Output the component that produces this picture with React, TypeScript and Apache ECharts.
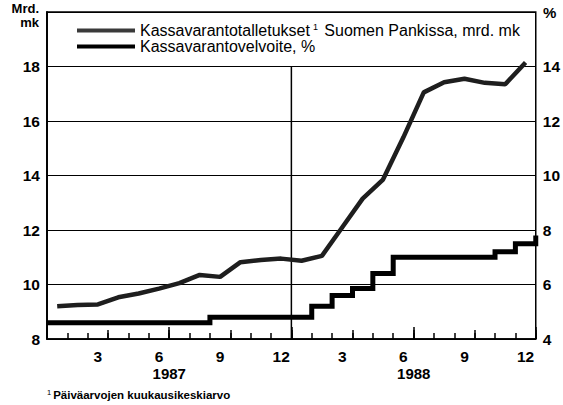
import React, { useEffect, useRef } from "react";
import * as echarts from "echarts";

const months = ["1","2","3","4","5","6","7","8","9","10","11","12","1","2","3","4","5","6","7","8","9","10","11","12"];
const years = ["1987", "1988"];
// Kassavarantotalletukset Suomen Pankissa, mrd. mk (monthly averages)
const deposits = [9.2, 9.25, 9.27, 9.53, 9.67, 9.85, 10.05, 10.35, 10.28, 10.82, 10.9, 10.95,
  10.87, 11.05, 12.1, 13.15, 13.85, 15.4, 17.05, 17.42, 17.55, 17.4, 17.35, 18.15];
// Kassavarantovelvoite, %
const reserveRatio = [4.6, 4.6, 4.6, 4.6, 4.6, 4.6, 4.6, 4.6, 4.8, 4.8, 4.8, 4.8,
  4.8, 5.2, 5.6, 5.85, 6.4, 7.0, 7.0, 7.0, 7.0, 7.0, 7.2, 7.5];
const reserveRatioNext = 7.8;
const leftTicks = [8, 10, 12, 14, 16, 18];
const rightTicks = [4, 6, 8, 10, 12, 14];

const NAME1 = "Kassavarantotalletukset";
const NAME2 = "Kassavarantovelvoite, %";
const FONT = "Liberation Sans, Arial, sans-serif";

export default function App() {
  const ref = useRef<HTMLDivElement>(null);
  useEffect(() => {
    const chart = echarts.init(ref.current!, null, { renderer: "svg" });
    const lineData = deposits.map((v, i) => [i + 0.5, v]);
    const stepData: number[][] = reserveRatio.map((v, i) => [i, v]);
    stepData.push([24, reserveRatio[reserveRatio.length - 1]]);
    stepData.push([24, reserveRatioNext]);

    const tickAxis = (interval: number, len: number, showLine: boolean) => ({
      type: "value",
      min: 0,
      max: 24,
      interval,
      position: "bottom",
      axisLine: { show: showLine, lineStyle: { color: "#000", width: 1.5 } },
      axisTick: { show: true, inside: true, length: len, lineStyle: { color: "#000", width: 1.5 } },
      axisLabel: { show: false },
      splitLine: { show: false },
    });

    // centre of each year's span on the month axis (grid: left 47, width 489)
    const yearX = (k: number) => 47 + ((k * 12 + 6) / 24) * 489;

    chart.setOption({
      animation: false,
      grid: {
        left: 47, right: 27, top: 12, bottom: 66,
        show: true, borderColor: "#000", borderWidth: 1.5, backgroundColor: "transparent",
      },
      legend: {
        orient: "vertical",
        left: 77,
        top: 22,
        padding: 0,
        itemWidth: 58,
        itemHeight: 4,
        itemGap: 0,
        icon: "rect",
        data: [NAME1, NAME2],
        selectedMode: false,
        formatter: (name: string) =>
          name === NAME1 ? "{t|Kassavarantotalletukset}{sup|1}{t| Suomen Pankissa, mrd. mk}" : "{t|" + name + "}",
        textStyle: {
          color: "#000",
          fontFamily: FONT,
          fontSize: 16,
          rich: {
            t: { fontSize: 16, fontFamily: FONT, color: "#000", lineHeight: 17 },
            sup: { fontSize: 9, fontFamily: FONT, color: "#000", verticalAlign: "top", lineHeight: 17, padding: [0, 2, 0, 3] },
          },
        },
      },
      xAxis: [
        tickAxis(1, 6, true),
        tickAxis(3, 9, false),
        tickAxis(6, 12, false),
        {
          type: "category",
          data: months,
          position: "bottom",
          boundaryGap: true,
          axisLine: { show: false },
          axisTick: { show: false },
          splitLine: { show: false },
          axisLabel: {
            interval: (idx: number) => (idx + 1) % 3 === 0,
            margin: 9,
            color: "#000",
            fontFamily: FONT,
            fontWeight: "bold",
            fontSize: 15.5,
          },
        },
      ],
      yAxis: [
        {
          type: "value",
          min: 8,
          max: 20,
          interval: 2,
          position: "left",
          axisLine: { show: true, lineStyle: { color: "#000", width: 1.5 } },
          axisTick: { show: false },
          splitLine: { show: true, lineStyle: { color: "#000", width: 1.2 } },
          axisLabel: {
            margin: 7,
            color: "#000",
            fontFamily: FONT,
            fontWeight: "bold",
            fontSize: 15.5,
            formatter: (v: number) => (leftTicks.includes(v) ? String(v) : ""),
          },
        },
        {
          type: "value",
          min: 4,
          max: 16,
          interval: 2,
          position: "right",
          axisLine: { show: true, lineStyle: { color: "#000", width: 1.5 } },
          axisTick: { show: false },
          splitLine: { show: false },
          axisLabel: {
            margin: 7,
            color: "#000",
            fontFamily: FONT,
            fontWeight: "bold",
            fontSize: 15.5,
            formatter: (v: number) => (rightTicks.includes(v) ? String(v) : ""),
          },
        },
      ],
      graphic: [
        {
          type: "text", x: 39, y: 2,
          style: { text: "Mrd.", align: "right", fill: "#000", font: "bold 13px " + FONT },
        },
        {
          type: "text", x: 39, y: 16,
          style: { text: "mk", align: "right", fill: "#000", font: "bold 13px " + FONT },
        },
        {
          type: "text", x: 543, y: 5,
          style: { text: "%", fill: "#000", font: "bold 15px " + FONT },
        },
        {
          type: "text", x: yearX(0), y: 373,
          style: { text: years[0], align: "center", verticalAlign: "middle", fill: "#000", font: "bold 15px " + FONT },
        },
        {
          type: "text", x: yearX(1), y: 373,
          style: { text: years[1], align: "center", verticalAlign: "middle", fill: "#000", font: "bold 15px " + FONT },
        },
        {
          type: "text", x: 47, y: 388,
          style: {
            text: "{s|1}{f|Päiväarvojen kuukausikeskiarvo}",
            fill: "#000",
            rich: {
              s: { fontSize: 7.5, fontFamily: FONT, fill: "#000", verticalAlign: "top", lineHeight: 13, padding: [0, 2, 0, 0] },
              f: { fontSize: 11.5, fontFamily: FONT, fontWeight: "bold", fill: "#000", lineHeight: 13 },
            },
          },
        },
      ],
      series: [
        {
          name: NAME1,
          type: "line",
          xAxisIndex: 0,
          yAxisIndex: 0,
          data: lineData,
          showSymbol: false,
          symbol: "none",
          color: "#3a3a3a",
          lineStyle: { color: "#1e1e1e", width: 4.5 },
          z: 4,
        },
        {
          name: NAME2,
          type: "line",
          xAxisIndex: 0,
          yAxisIndex: 1,
          data: stepData,
          step: "end",
          showSymbol: false,
          symbol: "none",
          color: "#000",
          lineStyle: { color: "#000", width: 5, join: "miter" },
          z: 5,
        },
        {
          name: "yearDivider",
          type: "line",
          xAxisIndex: 0,
          yAxisIndex: 0,
          data: [[12, 8], [12, 18]],
          showSymbol: false,
          symbol: "none",
          silent: true,
          lineStyle: { color: "#000", width: 1.5 },
          z: 3,
        },
      ],
    });
    return () => chart.dispose();
  }, []);
  return <div ref={ref} style={{ width: 563, height: 405, position: "absolute", left: 0, top: 0, background: "#fff" }} />;
}
